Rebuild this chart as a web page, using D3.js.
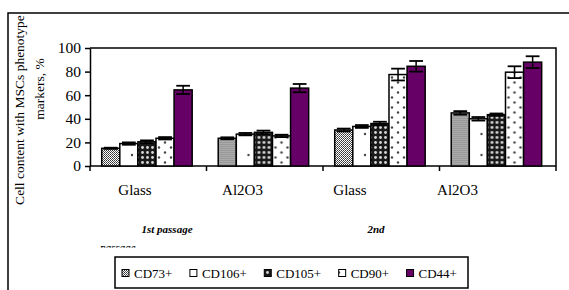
<!DOCTYPE html>
<html>
<head>
<meta charset="utf-8">
<script src="https://cdn.jsdelivr.net/npm/d3@7"></script>
<style>
  body { margin: 0; background: #fff; }
  text { font-family: "Liberation Serif", "Times New Roman", serif; fill: #000; }
</style>
</head>
<body>
<script>
// Data
const substrates = ["Glass", "Al2O3", "Glass", "Al2O3"];
const markers = ["CD73+", "CD106+", "CD105+", "CD90+", "CD44+"];
const cd73  = [15, 23.5, 30.5, 45];
const cd106 = [19, 27, 33.5, 40];
const cd105 = [20.5, 28.5, 36, 43.5];
const cd90  = [23.5, 25.5, 77.5, 79.5];
const cd44  = [64.5, 66, 84.5, 88];
const err73  = [0.5, 0.8, 1.2, 1.5];
const err106 = [1, 1, 1.2, 1.5];
const err105 = [1.2, 1.5, 1.5, 1];
const err90  = [1, 1, 5, 5];
const err44  = [3.5, 3.5, 4.5, 5];
const yTicks = [0, 20, 40, 60, 80, 100];
const passages = ["1st passage", "2nd"];

const series = [cd73, cd106, cd105, cd90, cd44];
const errors = [err73, err106, err105, err90, err44];

let width = 569, height = 290;
let margin = { top: 48, bottom: 166, left: 90, right: 556 };

let svg = d3.select("body").append("svg")
    .attr("width", width)
    .attr("height", height);

// Fill patterns for the markers
let defs = svg.append("defs");

let p73 = defs.append("pattern").attr("id", "p73")
    .attr("patternUnits", "userSpaceOnUse").attr("width", 2).attr("height", 2);
p73.append("rect").attr("width", 2).attr("height", 2).attr("fill", "#fff");
p73.append("rect").attr("width", 1).attr("height", 1).attr("fill", "#333");
p73.append("rect").attr("x", 1).attr("y", 1).attr("width", 1).attr("height", 1).attr("fill", "#555");

let p106 = defs.append("pattern").attr("id", "p106")
    .attr("patternUnits", "userSpaceOnUse").attr("width", 18).attr("height", 21);
p106.append("rect").attr("width", 18).attr("height", 21).attr("fill", "#fff");
p106.append("circle").attr("cx", 6).attr("cy", 8).attr("r", 1.2).attr("fill", "#444");

let p105 = defs.append("pattern").attr("id", "p105")
    .attr("patternUnits", "userSpaceOnUse").attr("width", 5).attr("height", 5);
p105.append("rect").attr("width", 5).attr("height", 5).attr("fill", "#1a1a1a");
p105.append("circle").attr("cx", 2.5).attr("cy", 2.5).attr("r", 1.4).attr("fill", "#d8d8d8");

let p90 = defs.append("pattern").attr("id", "p90")
    .attr("patternUnits", "userSpaceOnUse").attr("width", 12).attr("height", 10);
p90.append("rect").attr("width", 12).attr("height", 10).attr("fill", "#fff");
p90.append("circle").attr("cx", 3).attr("cy", 2.5).attr("r", 1.2).attr("fill", "#444");
p90.append("circle").attr("cx", 9).attr("cy", 7.5).attr("r", 1.2).attr("fill", "#444");

const fills = ["url(#p73)", "url(#p106)", "url(#p105)", "url(#p90)", "#660066"];

// Outer frame (runs off the right and bottom edges)
svg.append("rect")
    .attr("x", 8).attr("y", 13)
    .attr("width", 620).attr("height", 320)
    .attr("fill", "none").attr("stroke", "#000").attr("stroke-width", 1.5);

// Scales
let x0 = d3.scaleBand()
    .domain(d3.range(substrates.length))
    .range([margin.left, margin.right])
    .padding(0);

let x1 = d3.scaleBand()
    .domain(markers)
    .range([0, x0.bandwidth()])
    .paddingInner(0)
    .paddingOuter(0.72)
    .align(0.45);

let y = d3.scaleLinear()
    .domain([0, 100])
    .range([margin.bottom, margin.top]);

// Plot area border (top and right)
svg.append("path")
    .attr("d", `M${margin.left},${margin.top}H${margin.right}V${margin.bottom}`)
    .attr("fill", "none").attr("stroke", "#000").attr("stroke-width", 1.5);

// Y axis
let yaxis = svg.append("g")
    .attr("transform", `translate(${margin.left},0)`)
    .call(d3.axisLeft(y).tickValues(yTicks).tickSize(5).tickPadding(4).tickSizeOuter(0));
yaxis.select(".domain").attr("stroke-width", 1.5);
yaxis.selectAll(".tick line").attr("stroke-width", 1.5);
yaxis.selectAll("text")
    .style("font-family", "Liberation Serif")
    .style("font-size", "15.5px");

// X axis: ticks at the group boundaries only
let bounds = d3.range(substrates.length + 1).map(i => margin.left + i * x0.step());
svg.append("line")
    .attr("x1", margin.left).attr("x2", margin.right)
    .attr("y1", margin.bottom).attr("y2", margin.bottom)
    .attr("stroke", "#000").attr("stroke-width", 1.5);
svg.selectAll(".xtick")
    .data(bounds)
    .enter().append("line")
    .attr("class", "xtick")
    .attr("x1", d => d).attr("x2", d => d)
    .attr("y1", margin.bottom).attr("y2", margin.bottom + 5)
    .attr("stroke", "#000").attr("stroke-width", 1.5);

// Bars
let groups = svg.selectAll(".grp")
    .data(substrates.map((s, i) => i))
    .enter().append("g")
    .attr("class", "grp")
    .attr("transform", i => `translate(${x0(i)},0)`);

groups.each(function(gi) {
    let g = d3.select(this);
    markers.forEach((m, mi) => {
        let v = series[mi][gi], e = errors[mi][gi];
        let bx = x1(m), bw = x1.bandwidth();
        g.append("rect")
            .attr("x", bx)
            .attr("y", y(v))
            .attr("width", bw)
            .attr("height", y(0) - y(v))
            .attr("fill", fills[mi])
            .attr("stroke", "#000")
            .attr("stroke-width", 1.5);

        // error bar
        let cx = bx + bw / 2, cap = bw * 0.38;
        g.append("line")
            .attr("x1", cx).attr("x2", cx)
            .attr("y1", y(v - e)).attr("y2", y(v + e))
            .attr("stroke", "#000").attr("stroke-width", 1.5);
        [v - e, v + e].forEach(t => {
            g.append("line")
                .attr("x1", cx - cap).attr("x2", cx + cap)
                .attr("y1", y(t)).attr("y2", y(t))
                .attr("stroke", "#000").attr("stroke-width", 1.8);
        });
    });
});

// Substrate labels (set as one evenly spaced line under the axis)
svg.selectAll(".sub")
    .data(substrates)
    .enter().append("text")
    .attr("class", "sub")
    .attr("x", (d, i) => 135 + i * 107.5)
    .attr("y", 195)
    .attr("text-anchor", "middle")
    .style("font-size", "15px")
    .text(d => d);

// Passage labels
svg.selectAll(".pas")
    .data(passages)
    .enter().append("text")
    .attr("class", "pas")
    .attr("x", (d, i) => i === 0 ? 167 : 376)
    .attr("y", 233)
    .attr("text-anchor", "middle")
    .style("font-size", "11px")
    .style("font-weight", "bold")
    .style("font-style", "italic")
    .text(d => d);

// the wrapped second word that got cut off in the original
defs.append("clipPath").attr("id", "cut")
    .append("rect").attr("x", 95).attr("y", 245).attr("width", 50).attr("height", 2.5);
svg.append("text")
    .attr("x", 118).attr("y", 250.5)
    .attr("text-anchor", "middle")
    .attr("clip-path", "url(#cut)")
    .style("font-size", "11px")
    .style("font-weight", "bold")
    .style("font-style", "italic")
    .text("passage");

// Y axis title, two lines
svg.append("text")
    .attr("transform", "translate(24,110) rotate(-90)")
    .attr("text-anchor", "middle")
    .style("font-size", "13.5px")
    .text("Cell content with MSCs phenotype");
svg.append("text")
    .attr("transform", "translate(44,89) rotate(-90)")
    .attr("text-anchor", "middle")
    .style("font-size", "13.5px")
    .text("markers, %");

// Legend
let legend = svg.append("g");
legend.append("rect")
    .attr("x", 115).attr("y", 257)
    .attr("width", 353).attr("height", 31)
    .attr("fill", "#fff").attr("stroke", "#000").attr("stroke-width", 1.5);

let lx = 122;
markers.forEach((m, i) => {
    legend.append("rect")
        .attr("x", lx).attr("y", 269.5)
        .attr("width", 7).attr("height", 7)
        .attr("fill", fills[i])
        .attr("stroke", "#000").attr("stroke-width", 1);
    let t = legend.append("text")
        .attr("x", lx + 12)
        .attr("y", 278)
        .style("font-size", "13px")
        .text(m);
    lx += 12 + t.node().getComputedTextLength() + 17.5;
});
</script>
</body>
</html>
